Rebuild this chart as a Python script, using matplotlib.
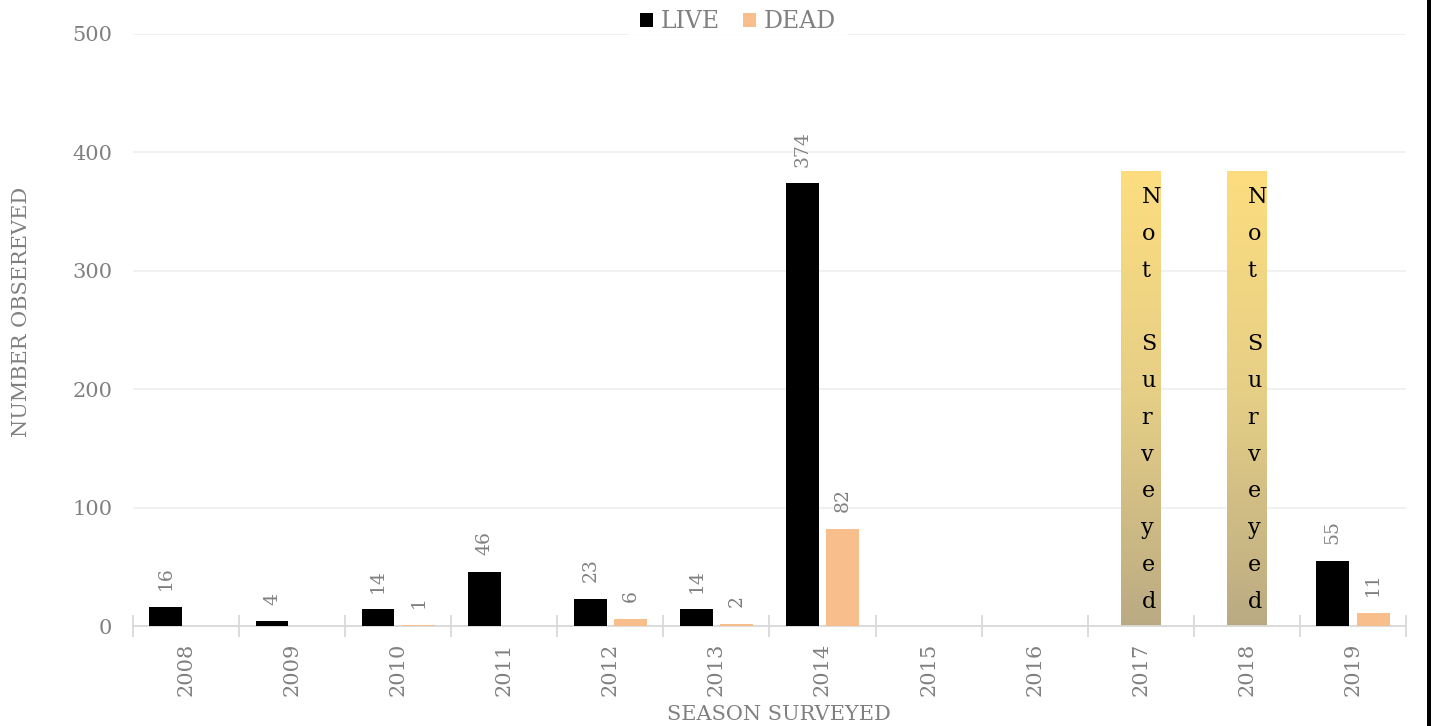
import numpy as np
import matplotlib.pyplot as plt
from matplotlib.colors import LinearSegmentedColormap
from matplotlib.patches import Rectangle

years = ['2008', '2009', '2010', '2011', '2012', '2013', '2014',
         '2015', '2016', '2017', '2018', '2019']
live = [16, 4, 14, 46, 23, 14, 374, np.nan, np.nan, np.nan, np.nan, 55]
dead = [np.nan, np.nan, 1, np.nan, 6, 2, 82, np.nan, np.nan, np.nan, np.nan, 11]
not_surveyed = [np.nan] * 9 + [384, 384, np.nan]
not_surveyed_text = "Not Surveyed"

GREY = '#808080'
DEAD_COLOR = '#F8BE8B'
FONT = 'DejaVu Serif'

plt.rcParams['font.family'] = FONT

fig = plt.figure(figsize=(14.32, 7.26), dpi=100)
ax = fig.add_axes([133 / 1432, 100 / 726, 1273 / 1432, 592 / 726])

x = np.arange(len(years))
bw = 0.31
off = 0.19

# gridlines
ax.set_yticks([0, 100, 200, 300, 400, 500])
ax.yaxis.grid(True, color='#EFEFEF', linewidth=1.2, zorder=0)
ax.set_axisbelow(True)

ax.bar(x - off, live, bw, color='black', label='LIVE', zorder=3)
ax.bar(x + off, dead, bw, color=DEAD_COLOR, label='DEAD', zorder=3)

# value labels
for xs, vals in ((x - off, live), (x + off, dead)):
    for xi, v in zip(xs, vals):
        if np.isnan(v):
            continue
        ax.annotate(f'{int(v)}', (xi, v), xytext=(0, 12), textcoords='offset points',
                    rotation=90, ha='center', va='bottom', fontsize=13.5, color=GREY)

# "Not Surveyed" gradient bars, one letter per line
cmap = LinearSegmentedColormap.from_list('ns', ['#B7A67C', '#E4CC7F', '#FDDB78'])
grad = np.linspace(0, 1, 256).reshape(-1, 1)
nsw = 0.37
for xi, v in zip(x, not_surveyed):
    if np.isnan(v):
        continue
    ax.imshow(grad, extent=(xi - nsw / 2, xi + nsw / 2, 0, v), origin='lower',
              cmap=cmap, aspect='auto', alpha=0.95, zorder=2)
    for k, ch in enumerate(not_surveyed_text):
        if ch == ' ':
            continue
        ax.annotate(ch, (xi, v), xytext=(0.5, -18.5 - 26.5 * k), textcoords='offset points',
                    ha='left', va='center', fontsize=16, color='black', zorder=4)

ax.set_xlim(-0.5, len(years) - 0.5)
ax.set_ylim(0, 500)

# ticks
ax.set_xticks(x)
ax.set_xticklabels(years, rotation=90, fontsize=15, color=GREY)
ax.set_xticks(np.arange(-0.5, len(years), 1), minor=True)
ax.tick_params(axis='x', which='major', length=0, pad=12)
ax.tick_params(axis='x', which='minor', direction='inout', length=16, color='#D9D9D9', width=1.3)
ax.tick_params(axis='y', length=0, labelsize=15, labelcolor=GREY, pad=15)

for s in ('top', 'right', 'left'):
    ax.spines[s].set_visible(False)
ax.spines['bottom'].set_color('#D9D9D9')
ax.spines['bottom'].set_linewidth(1.3)

fig.text(779 / 1432, 1 - 714 / 726, 'SEASON SURVEYED', ha='center', va='center',
         fontsize=15, color=GREY)
fig.text(22 / 1432, 1 - 312 / 726, 'NUMBER OBSEREVED', ha='center', va='center',
         rotation=90, fontsize=15, color=GREY)

leg = ax.legend(loc='center', bbox_to_anchor=(738 / 1432, 1 - 22 / 726),
                bbox_transform=fig.transFigure, ncol=2, frameon=True, fontsize=17,
                handlelength=0.55, handleheight=0.55, handletextpad=0.3,
                columnspacing=1.0, borderpad=0.5, fancybox=False)
leg.get_frame().set_facecolor('white')
leg.get_frame().set_edgecolor('white')
for t in leg.get_texts():
    t.set_color(GREY)

# right border line
fig.patches.append(Rectangle((1427 / 1432, 0), 4 / 1432, 1, transform=fig.transFigure,
                             facecolor='black', edgecolor='none'))

fig.savefig('out.png', dpi=100)
